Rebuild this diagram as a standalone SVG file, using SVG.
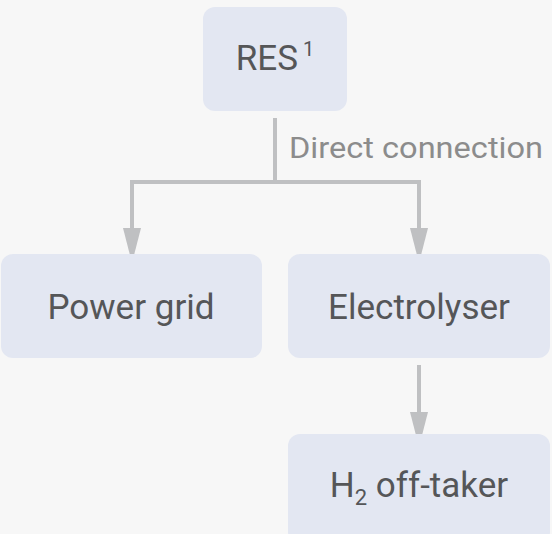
<svg xmlns="http://www.w3.org/2000/svg" width="552" height="534" viewBox="0 0 552 534">
<style>
.box{fill:#e3e7f2}
.lbl{font-family:Roboto,"Noto Sans",sans-serif;font-size:35px;fill:#555658;text-anchor:middle}
.edge{stroke:#bfc0c2;stroke-width:4;fill:none}
.head{fill:#bfc0c2}
.elbl{font-family:Roboto,"Noto Sans",sans-serif;font-size:30px;fill:#8c8c8c}
</style>
<rect width="552" height="534" fill="#f7f7f7"/>
<g id="connectors">
<path class="edge" d="M275,118 V182 M132,182 H419 M132,180 V230 M419,180 V230 M419,365 V414"/>
<polygon class="head" points="123,228 141,228 132,263"/>
<polygon class="head" points="410,228 428,228 419,263"/>
<polygon class="head" points="410,412 428,412 419,447"/>
<text class="elbl" x="289" y="158" textLength="254" lengthAdjust="spacingAndGlyphs">Direct connection</text>
</g>
<g id="res">
<rect class="box" x="203" y="7" width="144" height="104" rx="12"/>
<text class="lbl" x="275" y="70">RES<tspan font-size="20" dy="-14" dx="5">1</tspan></text>
</g>
<g id="power-grid">
<rect class="box" x="1" y="254" width="261" height="104" rx="12"/>
<text class="lbl" x="131" y="319">Power grid</text>
</g>
<g id="electrolyser">
<rect class="box" x="288" y="254" width="262" height="104" rx="12"/>
<text class="lbl" x="419" y="319">Electrolyser</text>
</g>
<g id="h2-offtaker">
<rect class="box" x="288" y="434" width="262" height="110" rx="12"/>
<text class="lbl" x="419" y="497">H<tspan font-size="22" dy="8">2</tspan><tspan dy="-8"> off-taker</tspan></text>
</g>
</svg>
